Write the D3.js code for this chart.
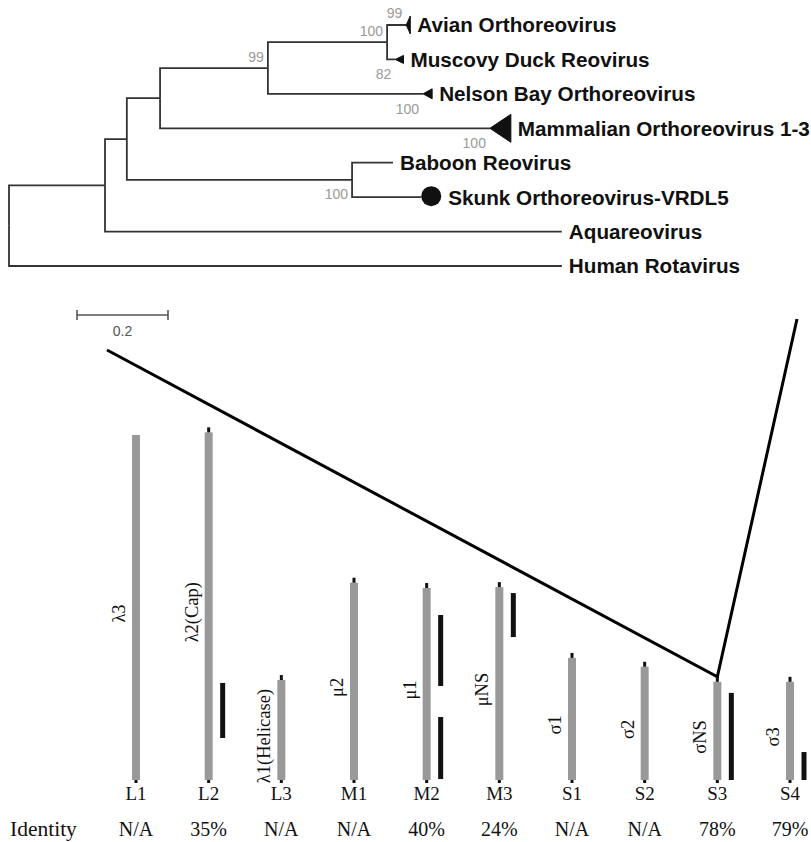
<!DOCTYPE html>
<html>
<head>
<meta charset="utf-8">
<script src="https://cdn.jsdelivr.net/npm/d3@7"></script>
<style>
  body { margin: 0; background: #fff; }
  svg { display: block; }
</style>
</head>
<body>
<script>
'use strict';

// ---- tree data (branch lengths in substitutions/site)
var tree = {name: 'root', children: [
  {name: 'A', len: 0.211, children: [
    {name: 'B', len: 0.048, children: [
      {name: 'D', len: 0.073, children: [
        {name: 'E', len: 0.237, support: 99, children: [
          {name: 'F', len: 0.262, support: 100, children: [
            {name: 'Avian Orthoreovirus', len: 0.042, support: 99},
            {name: 'Muscovy Duck Reovirus', len: 0.018, support: 82}
          ]},
          {name: 'Nelson Bay Orthoreovirus', len: 0.341, support: 100}
        ]},
        {name: 'Mammalian Orthoreovirus 1-3', len: 0.725, support: 100}
      ]},
      {name: 'C', len: 0.495, support: 100, children: [
        {name: 'Baboon Reovirus', len: 0.090},
        {name: 'Skunk Orthoreovirus-VRDL5', len: 0.152}
      ]}
    ]},
    {name: 'Aquareovirus', len: 1.004}
  ]},
  {name: 'Human Rotavirus', len: 1.215}
]};

// collapsed clades drawn as triangles [depth, half height], the new virus as a dot
var collapsed = {
  'Avian Orthoreovirus': [0.009, 9],
  'Muscovy Duck Reovirus': [0.018, 4],
  'Nelson Bay Orthoreovirus': [0.020, 5],
  'Mammalian Orthoreovirus 1-3': [0.046, 14]
};
var highlighted = 'Skunk Orthoreovirus-VRDL5';
var supportBelow = ['C', 'Muscovy Duck Reovirus', 'Nelson Bay Orthoreovirus', 'Mammalian Orthoreovirus 1-3'];

// ---- genome segments
var segments = ['L1', 'L2', 'L3', 'M1', 'M2', 'M3', 'S1', 'S2', 'S3', 'S4'];
var proteins = ['\u03bb3', '\u03bb2(Cap)', '\u03bb1(Helicase)', '\u03bc2', '\u03bc1', '\u03bcNS', '\u03c31', '\u03c32', '\u03c3NS', '\u03c33'];
var segLength = [3900, 3930, 1130, 2230, 2170, 2180, 1380, 1280, 1110, 1110];
var identity = ['N/A', '35%', 'N/A', 'N/A', '40%', '24%', 'N/A', 'N/A', '78%', '79%'];
// sequenced regions compared (nt from segment start)
var regionSeg = ['L2', 'M2', 'M2', 'M3', 'S3', 'S4'];
var regionFrom = [475, 1063, 11, 1616, 0, 0];
var regionTo = [1097, 1865, 712, 2113, 985, 316];
var treeSegment = 'S3';

var width = 811, height = 842;

var svg = d3.select('body').append('svg')
  .attr('width', width)
  .attr('height', height);

//////////////////////////////////////// tree
var root = d3.hierarchy(tree);
var leafNames = root.leaves().map(function (d) { return d.data.name; });

var xTree = d3.scaleLinear().domain([0, 1]).range([9, 464]);
var yTree = d3.scalePoint().domain(leafNames).range([25, 266]);

root.eachBefore(function (d) {
  d.dist = d.parent ? d.parent.dist + d.data.len : 0;
});
root.eachAfter(function (d) {
  d.y = d.children ? d3.mean(d.children, function (c) { return c.y; }) : yTree(d.data.name);
});

var gTree = svg.append('g');

gTree.selectAll('path.link')
  .data(root.descendants().slice(1))
  .enter().append('path')
  .attr('class', 'link')
  .attr('fill', 'none')
  .attr('stroke', '#333')
  .attr('stroke-width', 1.8)
  .attr('d', function (d) {
    return 'M' + xTree(d.parent.dist) + ',' + d.parent.y +
      'V' + d.y + 'H' + xTree(d.dist);
  });

var leaves = root.leaves();

// end of each leaf's marker, where its name begins
leaves.forEach(function (d) {
  var tip = xTree(d.dist);
  if (collapsed[d.data.name]) {
    var c = collapsed[d.data.name];
    d.end = xTree(d.dist + c[0]);
    gTree.append('path')
      .attr('fill', '#111')
      .attr('stroke', '#111')
      .attr('stroke-width', 1)
      .attr('d', 'M' + tip + ',' + d.y + 'L' + d.end + ',' + (d.y - c[1]) +
        'L' + d.end + ',' + (d.y + c[1]) + 'Z');
  } else if (d.data.name === highlighted) {
    gTree.append('circle')
      .attr('cx', tip + 10)
      .attr('cy', d.y - 1)
      .attr('r', 10)
      .attr('fill', '#111');
    d.end = tip + 20;
  } else {
    d.end = tip;
  }
});

gTree.selectAll('text.leaf')
  .data(leaves)
  .enter().append('text')
  .attr('class', 'leaf')
  .attr('x', function (d) { return d.end + 7; })
  .attr('y', function (d) { return d.y; })
  .attr('dy', '0.36em')
  .attr('font-family', '"Liberation Sans", Arial, sans-serif')
  .attr('font-weight', 'bold')
  .attr('font-size', 20.7)
  .attr('fill', '#111')
  .text(function (d) { return d.data.name; });

// bootstrap values
gTree.selectAll('text.support')
  .data(root.descendants().filter(function (d) { return d.data.support; }))
  .enter().append('text')
  .attr('class', 'support')
  .attr('text-anchor', 'end')
  .attr('x', function (d) { return xTree(d.dist) - 4; })
  .attr('y', function (d) {
    var below = supportBelow.indexOf(d.data.name) >= 0;
    if (!d.children) return below ? d.y + 20 : d.y - 7;
    return below ? d.y + 19 : d.y - 6;
  })
  .attr('font-family', '"Liberation Sans", Arial, sans-serif')
  .attr('font-size', 14)
  .attr('fill', '#9a9a9a')
  .text(function (d) { return d.data.support; });

// scale bar
var barX = 77, barY = 315, barW = xTree(0.2) - xTree(0);
var gBar = svg.append('g').attr('stroke', '#555').attr('stroke-width', 1.6);
gBar.append('line').attr('x1', barX).attr('x2', barX + barW).attr('y1', barY).attr('y2', barY);
gBar.append('line').attr('x1', barX).attr('x2', barX).attr('y1', barY - 5).attr('y2', barY + 5);
gBar.append('line').attr('x1', barX + barW).attr('x2', barX + barW).attr('y1', barY - 5).attr('y2', barY + 5);
svg.append('text')
  .attr('x', barX + barW / 2)
  .attr('y', barY + 21)
  .attr('text-anchor', 'middle')
  .attr('font-family', '"Liberation Sans", Arial, sans-serif')
  .attr('font-size', 14)
  .attr('fill', '#555')
  .text('0.2');

//////////////////////////////////////// segments
var xSeg = d3.scalePoint().domain(segments).range([136, 790]);
var ySeg = d3.scaleLinear().domain([0, 3900]).range([780, 435]);

var segData = segments.map(function (s, i) {
  return {seg: s, protein: proteins[i], len: segLength[i], identity: identity[i]};
});

// fan lines from the tree down to the segment used for it
var fan = [[107, 350], [xSeg(treeSegment), ySeg(segLength[segments.indexOf(treeSegment)]) - 5], [797, 319]];
svg.append('path')
  .attr('d', d3.line()(fan))
  .attr('fill', 'none')
  .attr('stroke', '#000')
  .attr('stroke-width', 3);

var gSeg = svg.append('g');

gSeg.selectAll('rect.seg')
  .data(segData)
  .enter().append('rect')
  .attr('class', 'seg')
  .attr('x', function (d) { return xSeg(d.seg) - 4; })
  .attr('width', 8)
  .attr('y', function (d) { return ySeg(d.len); })
  .attr('height', function (d) { return ySeg(0) - ySeg(d.len); })
  .attr('fill', '#999');

// end marks
gSeg.selectAll('rect.cap')
  .data(segData.slice(1))
  .enter().append('rect')
  .attr('class', 'cap')
  .attr('x', function (d) { return xSeg(d.seg) - 1.5; })
  .attr('width', 3)
  .attr('y', function (d) { return ySeg(d.len) - 5; })
  .attr('height', 5)
  .attr('fill', '#111');

gSeg.selectAll('rect.foot')
  .data(segData)
  .enter().append('rect')
  .attr('class', 'foot')
  .attr('x', function (d) { return xSeg(d.seg) - 1.5; })
  .attr('width', 3)
  .attr('y', ySeg(0))
  .attr('height', 3)
  .attr('fill', '#111');

// compared regions
gSeg.selectAll('rect.region')
  .data(regionSeg.map(function (s, i) { return {seg: s, from: regionFrom[i], to: regionTo[i]}; }))
  .enter().append('rect')
  .attr('class', 'region')
  .attr('x', function (d) { return xSeg(d.seg) + 11.5; })
  .attr('width', 5)
  .attr('y', function (d) { return ySeg(d.to); })
  .attr('height', function (d) { return ySeg(d.from) - ySeg(d.to); })
  .attr('fill', '#111');

var serif = '"Liberation Serif", "Times New Roman", serif';

gSeg.selectAll('text.protein')
  .data(segData)
  .enter().append('text')
  .attr('class', 'protein')
  .attr('transform', function (d) {
    return 'translate(' + (xSeg(d.seg) - 11) + ',' + (ySeg(d.len / 2) + 6) + ') rotate(-90)';
  })
  .attr('text-anchor', 'middle')
  .attr('font-family', serif)
  .attr('font-size', 18.5)
  .attr('fill', '#111')
  .text(function (d) { return d.protein; });

gSeg.selectAll('text.segname')
  .data(segData)
  .enter().append('text')
  .attr('class', 'segname')
  .attr('x', function (d) { return xSeg(d.seg); })
  .attr('y', 800)
  .attr('text-anchor', 'middle')
  .attr('font-family', serif)
  .attr('font-size', 19)
  .attr('fill', '#111')
  .text(function (d) { return d.seg; });

gSeg.selectAll('text.identity')
  .data(segData)
  .enter().append('text')
  .attr('class', 'identity')
  .attr('x', function (d) { return xSeg(d.seg); })
  .attr('y', 836)
  .attr('text-anchor', 'middle')
  .attr('font-family', serif)
  .attr('font-size', 20)
  .attr('fill', '#111')
  .text(function (d) { return d.identity; });

svg.append('text')
  .attr('x', 10)
  .attr('y', 836)
  .attr('font-family', serif)
  .attr('font-size', 21.5)
  .attr('fill', '#111')
  .text('Identity');
</script>
</body>
</html>
